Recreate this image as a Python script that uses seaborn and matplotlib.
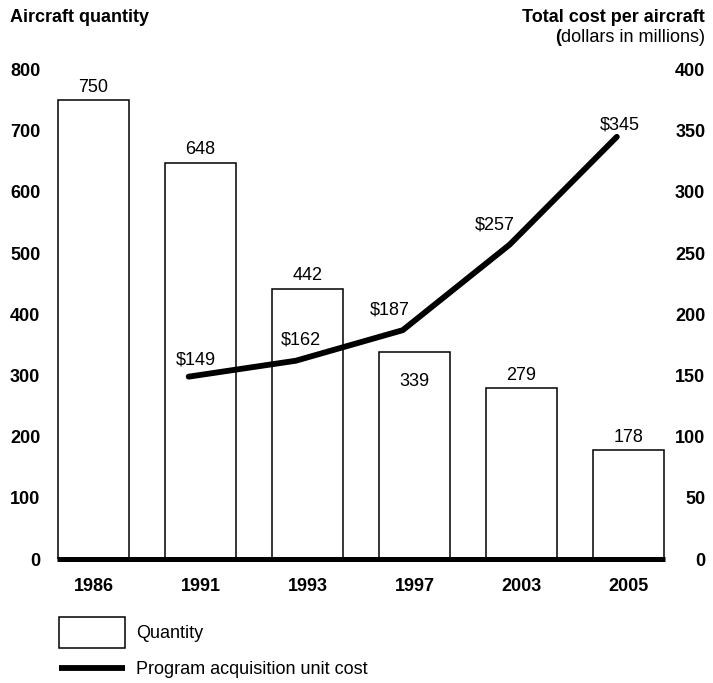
import matplotlib
matplotlib.use("Agg")
import matplotlib.pyplot as plt
import seaborn as sns
import pandas as pd
from matplotlib.patches import Patch
from matplotlib.lines import Line2D

years = ["1986", "1991", "1993", "1997", "2003", "2005"]
quantity = [750, 648, 442, 339, 279, 178]
cost_years = ["1991", "1993", "1997", "2003", "2005"]
unit_cost = [149, 162, 187, 257, 345]
left_ticks = [0, 100, 200, 300, 400, 500, 600, 700, 800]
right_ticks = [0, 50, 100, 150, 200, 250, 300, 350, 400]

sns.set_style("white")
plt.rcParams["font.family"] = ["Liberation Sans", "DejaVu Sans"]
plt.rcParams["text.color"] = "black"
plt.rcParams["xtick.color"] = "black"
plt.rcParams["ytick.color"] = "black"
plt.rcParams["axes.labelcolor"] = "black"

FS = 13
fig = plt.figure(figsize=(7.13, 6.83), dpi=100)
ax = fig.add_axes([57/713, 1-559/683, (665-57)/713, (559-69.5)/683])

df = pd.DataFrame({"year": years, "quantity": quantity})
sns.barplot(data=df, x="year", y="quantity", ax=ax, color="white",
            edgecolor="black", linewidth=1.1, width=0.66, saturation=1)

ax2 = ax.twinx()
line_offset = -0.11
xpos = [years.index(y) + line_offset for y in cost_years]
ldf = pd.DataFrame({"x": xpos, "cost": unit_cost})
sns.lineplot(data=ldf, x="x", y="cost", ax=ax2, color="black", linewidth=4.2)

ax.set_xlim(-0.34, 5.34)
ax.set_ylim(0, 800)
ax2.set_ylim(0, 400)
ax.set_yticks(left_ticks)
ax2.set_yticks(right_ticks)
ax.set_xlabel("")
ax.set_ylabel("")
ax2.set_xlabel("")
ax2.set_ylabel("")

for a in (ax, ax2):
    for s in ("top", "left", "right"):
        a.spines[s].set_visible(False)
ax2.spines["bottom"].set_visible(False)
ax.spines["bottom"].set_linewidth(3.6)
ax.spines["bottom"].set_color("black")
ax.spines["bottom"].set_capstyle("butt")

ax.tick_params(axis="y", length=0, pad=12, labelsize=FS, colors="black")
ax.tick_params(axis="x", length=0, pad=14, labelsize=FS, colors="black")
ax2.tick_params(axis="y", length=0, pad=29, labelsize=FS, colors="black")
for t in ax.get_yticklabels() + ax.get_xticklabels():
    t.set_fontweight("bold")
for t in ax2.get_yticklabels():
    t.set_fontweight("bold")
    t.set_horizontalalignment("right")

# bar value labels
bar_label_dy = [9.4, 9.4, 9.4, -21.5, 9.4, 9.4]
for i, (v, dy) in enumerate(zip(quantity, bar_label_dy)):
    ax.annotate(str(v), (i, v), xytext=(0, dy), textcoords="offset points",
                ha="center", va="center", fontsize=FS, color="black")

# line value labels
line_label_off = [(5, 12), (3.6, 15), (-9.4, 14.4), (-11, 14), (2.5, 8.6)]
for x, v, (dx, dy) in zip(xpos, unit_cost, line_label_off):
    ax2.annotate(f"${v}", (x, v), xytext=(dx, dy), textcoords="offset points",
                 ha="center", va="center", fontsize=FS, color="black")

fig.text(10/713, 1-18/683, "Aircraft quantity", fontsize=FS, fontweight="bold",
         ha="left", va="center")
fig.text(705/713, 1-18/683, "Total cost per aircraft", fontsize=FS,
         fontweight="bold", ha="right", va="center")
t_sub = fig.text(705/713, 1-42/683, "dollars in millions)", fontsize=FS,
                 ha="right", va="baseline")
ax.annotate("(", xy=(0, 0), xycoords=t_sub, ha="right", va="bottom",
            fontsize=FS, fontweight="bold", annotation_clip=False)

fig.legend([Patch(facecolor="white", edgecolor="black", linewidth=1.1)],
           ["Quantity"], loc="center left",
           bbox_to_anchor=(59/713, 1-632.5/683), frameon=False,
           borderpad=0, borderaxespad=0, handlelength=3.65, handleheight=2.3,
           handletextpad=0.6, fontsize=FS)
fig.legend([Line2D([0], [0], color="black", linewidth=4.2, solid_capstyle="butt")],
           ["Program acquisition unit cost"], loc="center left",
           bbox_to_anchor=(59/713, 1-670/683), frameon=False,
           borderpad=0, borderaxespad=0, handlelength=3.65, handleheight=0.7,
           handletextpad=0.6, fontsize=FS)

fig.savefig("out.png", dpi=100)
